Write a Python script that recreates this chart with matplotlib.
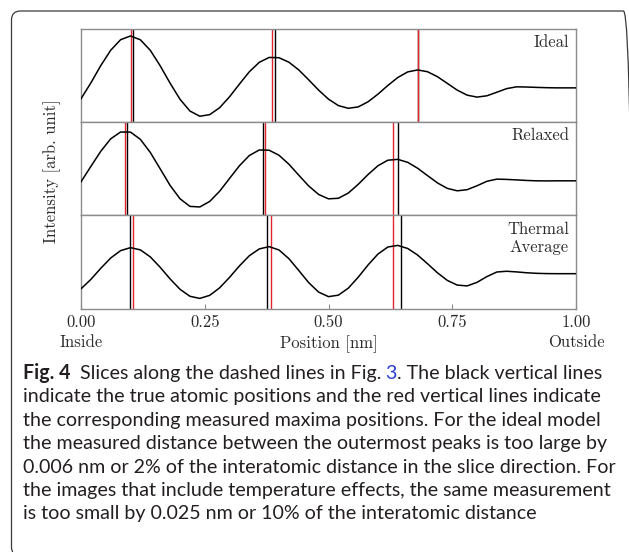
import matplotlib.pyplot as plt
from matplotlib.patches import FancyBboxPatch
from matplotlib.transforms import IdentityTransform

W, H = 629, 552

position = [0.00, 0.02, 0.04, 0.06, 0.08, 0.10, 0.12, 0.14, 0.16, 0.18,
            0.20, 0.22, 0.24, 0.26, 0.28, 0.30, 0.32, 0.34, 0.36, 0.38,
            0.40, 0.42, 0.44, 0.46, 0.48, 0.50, 0.52, 0.54, 0.56, 0.58,
            0.60, 0.62, 0.64, 0.66, 0.68, 0.70, 0.72, 0.74, 0.76, 0.78,
            0.80, 0.82, 0.84, 0.86, 0.88, 0.90, 0.92, 0.94, 0.96, 0.98, 1.00]

ideal = [0.247, 0.418, 0.603, 0.767, 0.880, 0.920, 0.879, 0.766, 0.600, 0.414,
         0.242, 0.116, 0.060, 0.077, 0.151, 0.268, 0.404, 0.536, 0.637, 0.690,
         0.687, 0.639, 0.556, 0.450, 0.340, 0.243, 0.174, 0.145, 0.160, 0.215,
         0.297, 0.390, 0.475, 0.535, 0.556, 0.537, 0.484, 0.412, 0.340, 0.286,
         0.265, 0.279, 0.317, 0.356, 0.375, 0.373, 0.369, 0.366, 0.364, 0.364, 0.364]

relaxed = [0.357, 0.523, 0.685, 0.818, 0.891, 0.890, 0.812, 0.672, 0.496, 0.319,
           0.176, 0.094, 0.088, 0.147, 0.256, 0.393, 0.529, 0.639, 0.698, 0.696,
           0.642, 0.546, 0.428, 0.313, 0.222, 0.175, 0.181, 0.237, 0.330, 0.436,
           0.530, 0.589, 0.598, 0.566, 0.503, 0.424, 0.346, 0.287, 0.261, 0.273,
           0.315, 0.363, 0.386, 0.383, 0.378, 0.372, 0.368, 0.367, 0.368, 0.368, 0.368]

thermal = [0.211, 0.312, 0.431, 0.541, 0.620, 0.652, 0.628, 0.553, 0.441, 0.317,
           0.206, 0.131, 0.108, 0.141, 0.221, 0.333, 0.456, 0.565, 0.638, 0.663,
           0.627, 0.534, 0.407, 0.277, 0.176, 0.127, 0.143, 0.218, 0.335, 0.467,
           0.584, 0.659, 0.676, 0.643, 0.573, 0.480, 0.383, 0.301, 0.251, 0.242,
           0.280, 0.342, 0.391, 0.399, 0.392, 0.383, 0.377, 0.374, 0.373, 0.373, 0.373]

panel_names = ["Ideal", "Relaxed", "Thermal\nAverage"]
true_peaks = [[0.1044, 0.3926, 0.6800],
              [0.0923, 0.3677, 0.6397],
              [0.0997, 0.3764, 0.6471]]
measured_peaks = [[0.1004, 0.3865, 0.6800],
                  [0.0882, 0.3710, 0.6296],
                  [0.1057, 0.3845, 0.6303]]

tick_values = [0.0, 0.25, 0.5, 0.75, 1.0]
tick_labels = ["0.00\nInside", "0.25", "0.50\nPosition [nm]", "0.75", "1.00\nOutside"]

caption_first = [("Fig. 4", "bold", None),
                 ("Slices along the dashed lines in Fig.", "normal", None),
                 ("3", "normal", "#2a3fd4"),
                 (". The black vertical lines", "normal", None)]
caption_rest = [
    "indicate the true atomic positions and the red vertical lines indicate",
    "the corresponding measured maxima positions. For the ideal model",
    "the measured distance between the outermost peaks is too large by",
    "0.006 nm or 2% of the interatomic distance in the slice direction. For",
    "the images that include temperature effects, the same measurement",
    "is too small by 0.025 nm or 10% of the interatomic distance",
]

plt.rcParams["font.family"] = "serif"
plt.rcParams["font.serif"] = ["cmr10"]
plt.rcParams["axes.formatter.use_mathtext"] = True

TEXT = "#2b2b2b"
SPINE = "#8c8c8c"
RED = "#e3262e"
FS = 12

fig = plt.figure(figsize=(W / 100, H / 100), dpi=100)

# three stacked panels, placed in pixel units
left_px, right_px = 81, 576
top_px, bottom_px = 28.5, 308.5
panel_h = (bottom_px - top_px) / 3
profiles = [ideal, relaxed, thermal]
axes = []
for i, values in enumerate(profiles):
    y_top = top_px + i * panel_h
    ax = fig.add_axes([left_px / W, 1 - (y_top + panel_h) / H,
                       (right_px - left_px) / W, panel_h / H])
    for xv in true_peaks[i]:
        ax.axvline(xv, color="black", lw=1.0, zorder=2)
    for xv in measured_peaks[i]:
        ax.axvline(xv, color=RED, lw=1.0, zorder=2)
    ax.plot(position, values, color="black", lw=1.1, zorder=3,
            solid_joinstyle="round")
    ax.set_xlim(0, 1)
    ax.set_ylim(0, 1)
    ax.set_yticks([])
    for sp in ax.spines.values():
        sp.set_color(SPINE)
        sp.set_linewidth(1.0)
    ax.text(0.986, 0.935, panel_names[i], transform=ax.transAxes, ha="right",
            va="top", ma="right", fontsize=FS, color=TEXT, linespacing=1.22)
    if i < 2:
        ax.tick_params(axis="x", bottom=False, labelbottom=False)
    axes.append(ax)

ax = axes[-1]
ax.set_xticks(tick_values)
ax.set_xticklabels(tick_labels)
ax.tick_params(axis="x", direction="in", length=3.5, width=0.8, color=SPINE,
               labelsize=FS, labelcolor=TEXT, pad=4.5)
for lab in ax.get_xticklabels():
    lab.set_linespacing(1.38)

fig.text(52 / W, 1 - 171.5 / H, "Intensity [arb. unit]", rotation=90,
         ha="center", va="center", fontsize=FS, color=TEXT)

# caption, sized so that the second line spans the reference width
renderer = fig.canvas.get_renderer()
cap_family = ["Lato", "DejaVu Sans"]
probe = fig.text(0, 0, caption_rest[0], family=cap_family, fontsize=12)
probe_w = probe.get_window_extent(renderer).width
probe.remove()
cap_fs = 12 * 574 / probe_w

x0, base0, step = 23.3, 379.0, 23.4
x = x0
for k, (piece, weight, color) in enumerate(caption_first):
    t = fig.text(x / W, 1 - base0 / H, piece, family=cap_family, fontsize=cap_fs,
                 weight=weight, color=color or "#231f20", va="baseline")
    x = t.get_window_extent(renderer).x1
    if k == 0:
        x += 9.5
    elif k == 1:
        x += cap_fs * 100 / 72 * 0.2
for j, line in enumerate(caption_rest, start=1):
    fig.text(x0 / W, 1 - (base0 + j * step) / H, line, family=cap_family,
             fontsize=cap_fs, color="#231f20", va="baseline")

# rounded frame around the figure block (right and bottom edges fall off the page)
frame = FancyBboxPatch((11.5, -4), 621, 545, boxstyle="round,pad=0,rounding_size=9",
                       transform=IdentityTransform(), fill=False,
                       edgecolor="#3a3a3a", linewidth=0.9)
fig.add_artist(frame)

fig.savefig("out.png", dpi=100)
